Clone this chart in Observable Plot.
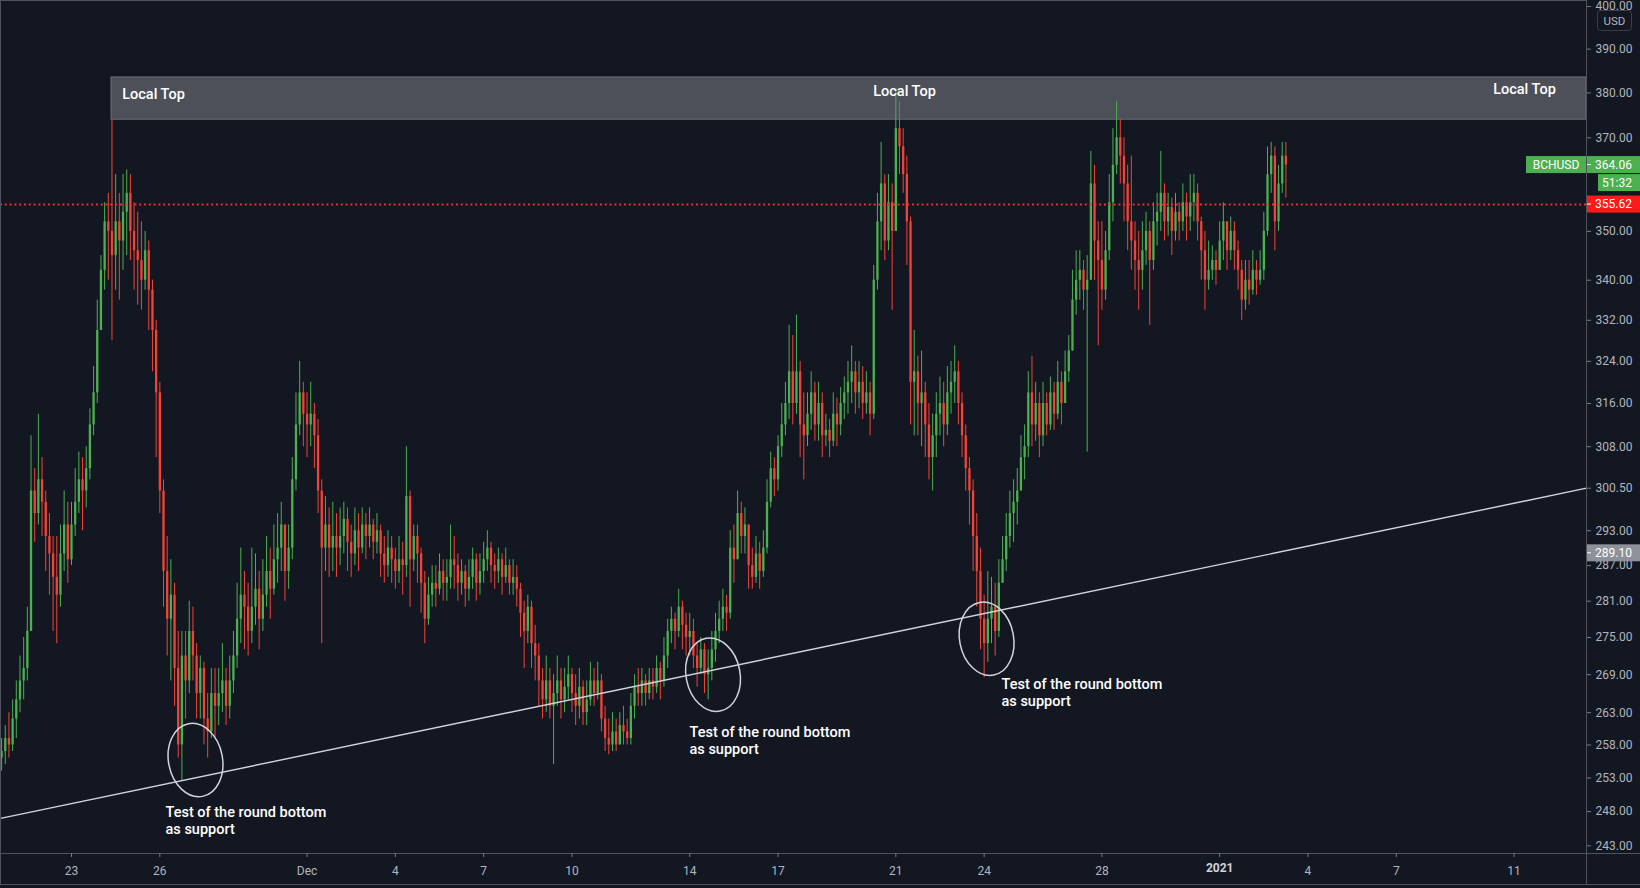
<!DOCTYPE html>
<html><head><meta charset="utf-8">
<script src="https://cdn.jsdelivr.net/npm/d3@7"></script>
<script src="https://cdn.jsdelivr.net/npm/@observablehq/plot@0.6"></script>
<style>
html,body{margin:0;padding:0;background:#131722;overflow:hidden}
svg{display:block}
</style></head><body><div id="chart"></div>
<script>
// ---- data (3-hour candles, BCHUSD) ----
const startTime = Date.UTC(2020, 10, 20, 15);
const stepHours = 3;
const firstOpen = 256;
const closes = [
257,259,258,
262,265,268,270,276,300,296,302,
298,292,289,285,282,289,294,288,
294,298,302,300,304,312,318,330,
342,352,350,345,352,348,354,358,
350,346,344,340,346,338,330,318,
300,286,278,282,270,258,272,268,
276,272,266,270,262,260,266,264,
266,268,264,268,272,278,282,280,
276,280,283,278,282,286,283,288,
290,294,286,290,302,312,318,314,
312,314,310,300,290,294,290,292,
290,292,295,291,289,293,290,294,
292,294,291,293,289,287,290,288,
286,288,287,299,288,292,289,284,
278,282,284,283,286,284,285,288,
287,284,286,283,285,288,284,286,
288,290,287,286,288,285,287,284,
285,283,279,276,280,274,272,268,
265,268,264,266,268,265,267,269,
266,264,267,263,265,268,266,268,
262,259,258,260,258,261,260,259,
264,267,266,268,266,268,267,270,
268,272,276,278,276,280,277,275,
276,272,270,273,269,270,273,276,
278,280,279,290,288,296,292,294,
287,285,289,286,290,298,304,302,
308,312,316,322,316,322,312,310,
314,318,312,316,310,311,309,314,
312,316,318,320,322,318,320,316,
318,314,340,352,360,348,356,350,
372,368,362,352,320,322,316,318,
312,306,310,314,316,312,318,320,
322,316,310,304,300,292,286,278,
274,278,280,276,284,288,292,296,
298,300,306,308,318,312,316,310,
316,312,318,314,320,316,322,326,
336,340,342,338,340,360,348,344,
338,346,356,364,370,366,360,352,
348,344,342,346,350,344,352,354,
358,352,355,350,354,352,356,353,
356,358,352,346,340,342,344,342,
348,352,346,350,346,342,336,340,
338,342,340,342,350,362,366,352,
360,366,364.06];
const highs = [
259,261,263,
265,268,272,275,280,310,304,314,
306,300,296,292,292,294,300,298,
298,304,307,306,308,315,323,336,
345,356,358,374,362,358,362,363,
362,356,354,352,350,348,340,332,
320,302,292,288,284,276,276,276,
281,280,274,272,271,266,270,270,
270,274,270,272,276,284,290,286,
284,290,289,286,288,292,290,294,
296,298,294,294,306,318,324,320,
318,320,316,313,302,299,297,298,
296,297,298,297,294,297,296,297,
296,297,295,296,294,292,293,292,
290,292,291,308,300,294,294,290,
286,285,287,287,289,288,288,294,
292,289,288,287,288,290,289,289,
291,293,291,289,290,289,290,288,
288,287,284,281,282,281,277,274,
270,272,270,269,272,270,270,272,
270,269,270,268,268,271,270,271,
269,264,262,263,262,263,264,262,
266,269,270,270,269,270,270,272,
271,275,278,280,279,283,281,279,
279,278,274,275,274,273,276,279,
281,283,282,293,294,300,298,297,
294,290,292,291,293,302,307,306,
310,316,320,331,329,333,324,318,
318,322,320,320,318,314,313,318,
317,319,321,324,327,324,324,323,
322,320,343,358,369,362,362,360,
381,378,372,366,353,330,325,326,
320,316,314,318,321,320,323,324,
327,324,318,312,306,302,296,290,
282,286,285,284,288,292,296,300,
302,304,310,312,322,325,320,318,
320,318,321,320,324,322,326,329,
342,346,346,344,345,367,364,352,
352,350,362,372,378,374,370,364,
366,352,350,352,354,352,356,358,
367,360,358,357,358,356,360,358,
362,362,360,353,350,348,347,346,
352,356,352,353,352,348,344,344,
344,346,344,346,354,368,369,368,
364,369,369];
const lows = [
254,255,256,
257,259,263,265,268,276,291,294,
292,286,282,276,274,280,286,284,
287,292,296,293,297,302,310,316,
330,338,340,328,338,336,342,345,
344,338,335,334,338,330,322,306,
296,280,272,268,264,256,252.5,262,
266,268,262,262,258,256,259,259,
261,263,261,262,266,270,274,273,
272,274,277,273,276,280,278,282,
284,286,281,283,288,300,310,308,
306,308,304,296,274,286,285,286,
285,287,289,286,285,287,286,289,
288,290,288,289,285,284,285,284,
283,284,282,285,280,286,284,279,
274,277,280,280,282,281,281,283,
283,281,282,280,281,283,281,282,
284,286,284,283,284,282,284,282,
282,280,275,270,274,270,268,264,
262,263,262,255,264,262,263,265,
263,261,262,261,261,264,264,265,
260,257,256.5,257,257,258,258,258,
258,262,264,264,264,265,265,266,
265,267,270,274,273,275,273,272,
272,270,267,269,266,265,268,271,
274,276,276,278,284,288,289,289,
283,283,284,283,285,289,297,299,
300,306,310,313,312,314,306,302,
308,311,309,309,306,308,306,308,
308,310,313,314,316,314,315,313,
314,310,313,338,346,344,346,334,
350,362,358,343,312,310,310,308,
306,302,300,306,310,308,310,314,
316,312,306,300,294,286,280,273,
268.5,271,274,272,275,284,286,290,
291,294,300,302,306,308,309,306,
308,310,311,311,313,312,316,320,
326,333,336,334,307,340,340,327,
334,336,344,352,362,360,352,346,
342,338,334,338,343,331,342,347,
350,348,349,345,348,348,350,348,
350,352,348,340,334,338,340,339,
342,344,342,344,342,338,332,334,
335,337,337,339,340,349,358,346,
350,358,357];

const yTicks = [400, 390, 380, 370, 350, 340, 332, 324, 316, 308, 300.5, 293, 287, 281, 275, 269, 263, 258, 253, 248, 243];
const xTickDates = ["2020-11-23","2020-11-26","2020-12-01","2020-12-04","2020-12-07","2020-12-10","2020-12-14","2020-12-17","2020-12-21","2020-12-24","2020-12-28","2021-01-01","2021-01-04","2021-01-07","2021-01-11"];
const xTickLabels = ["23","26","Dec","4","7","10","14","17","21","24","28","2021","4","7","11"];
const xDomain = [new Date(Date.UTC(2020, 10, 20, 14, 7)), new Date(Date.UTC(2021, 0, 13, 11, 3))];
const yDomain = [241.9, 401.43];

const zone = [{start: new Date("2020-11-24T08:36Z"), end: xDomain[1], bottom: 374, top: 383.5}];
const localTopLabels = [
  {date: new Date("2020-11-24T17:20Z"), price: 379.6, text: "Local Top"},
  {date: new Date("2020-12-21T07:05Z"), price: 380.3, text: "Local Top"},
  {date: new Date("2021-01-11T08:30Z"), price: 380.8, text: "Local Top"}
];
const supportLine = [{date: xDomain[0], price: 247.0}, {date: xDomain[1], price: 300.5}];
const ellipses = [
  {date: new Date("2020-11-27T05:05Z"), price: 255.7},
  {date: new Date("2020-12-14T19:00Z"), price: 269.0},
  {date: new Date("2020-12-24T02:00Z"), price: 274.8}
];
const noteText = "Test of the round bottom\nas support";
const notes = [
  {date: new Date("2020-11-26T04:38Z"), price: 246.8},
  {date: new Date("2020-12-13T23:48Z"), price: 258.8},
  {date: new Date("2020-12-24T14:10Z"), price: 266.2}
];
const refPrice = 355.62;
const lastPrice = 364.06;
const lineTagPrice = 289.10;
const countdown = "51:32";
const symbolName = "BCHUSD";

// ---- build candles ----
const candles = closes.map((c, i) => {
  const open = i ? closes[i - 1] : firstOpen;
  return {
    date: new Date(startTime + i * stepHours * 3600e3),
    open, close: c,
    high: Math.max(highs[i], open, c),
    low: Math.min(lows[i], open, c)
  };
});
const ups = candles.filter(d => d.close >= d.open);
const downs = candles.filter(d => d.close < d.open);
const GREEN = "#4caf50", RED = "#f44336";

const labelMap = new Map(xTickDates.map((d, i) => [+new Date(d + "T00:00Z"), xTickLabels[i]]));
const xTicks = xTickDates.map(d => new Date(d + "T00:00Z"));

// rotated ellipse symbol
const ellipseSymbol = {
  draw(ctx) {
    const a = 27, b = 37, k = 0.5523, t = -11 * Math.PI / 180;
    const c = Math.cos(t), s = Math.sin(t);
    const P = (x, y) => [x * c - y * s, x * s + y * c];
    const pts = [[a,0],[a,b*k],[a*k,b],[0,b],[-a*k,b],[-a,b*k],[-a,0],[-a,-b*k],[-a*k,-b],[0,-b],[a*k,-b],[a,-b*k],[a,0]].map(p => P(p[0], p[1]));
    ctx.moveTo(pts[0][0], pts[0][1]);
    for (let i = 1; i < pts.length; i += 3)
      ctx.bezierCurveTo(pts[i][0], pts[i][1], pts[i+1][0], pts[i+1][1], pts[i+2][0], pts[i+2][1]);
    ctx.closePath();
  }
};

const annoFont = "Roboto, 'Noto Sans', sans-serif";

const plot = Plot.plot({
  width: 1640, height: 888,
  marginLeft: 0, marginRight: 54, marginTop: 0, marginBottom: 35,
  style: {background: "#131722", color: "#b2b5be", fontFamily: "Roboto, 'Noto Sans', sans-serif", fontSize: "12px"},
  x: {type: "utc", domain: xDomain},
  y: {type: "log", domain: yDomain},
  marks: [
    Plot.rect(zone, {x1: "start", x2: "end", y1: "bottom", y2: "top", fill: "#4e5059", stroke: "#6b6e78", strokeWidth: 1}),
    Plot.ruleX(ups, {x: "date", y1: "low", y2: "high", stroke: GREEN, strokeWidth: 1}),
    Plot.ruleX(downs, {x: "date", y1: "low", y2: "high", stroke: RED, strokeWidth: 1}),
    Plot.ruleX(ups, {x: "date", y1: "open", y2: "close", stroke: GREEN, strokeWidth: 2.3}),
    Plot.ruleX(downs, {x: "date", y1: "open", y2: "close", stroke: RED, strokeWidth: 2.3}),
    Plot.ruleY([refPrice], {stroke: "#e8322e", strokeWidth: 2, strokeDasharray: "2,2.8"}),
    Plot.line(supportLine, {x: "date", y: "price", stroke: "#d1d4dc", strokeWidth: 1.4}),
    Plot.dot(ellipses, {x: "date", y: "price", symbol: ellipseSymbol, r: 1, fill: "none", stroke: "#d1d4dc", strokeWidth: 1.5}),
    Plot.text(localTopLabels.slice(0, 1), {x: "date", y: "price", text: "text", textAnchor: "start", fill: "#ffffff", fontSize: 14.5, fontWeight: 500, fontFamily: annoFont}),
    Plot.text(localTopLabels.slice(1), {x: "date", y: "price", text: "text", textAnchor: "middle", fill: "#ffffff", fontSize: 14.5, fontWeight: 500, fontFamily: annoFont}),
    Plot.text(notes, {x: "date", y: "price", text: () => noteText, textAnchor: "start", lineAnchor: "middle", lineHeight: 1.19, fill: "#ffffff", fontSize: 14.5, fontWeight: 500, fontFamily: annoFont}),
    Plot.frame({stroke: "#50535e"}),
    Plot.axisY(yTicks, {anchor: "right", label: null, tickSize: 4, tickPadding: 5, stroke: "#787b86", fill: "#b2b5be", tickFormat: d => d.toFixed(2)}),
    Plot.axisX(xTicks, {anchor: "bottom", label: null, tickSize: 4, tickPadding: 9, stroke: "#787b86", fill: "#b2b5be", tickFormat: d => (labelMap.get(+d) === "2021" ? "" : labelMap.get(+d))}),
    Plot.text(xTicks.filter(d => labelMap.get(+d) === "2021"), {x: d => d, frameAnchor: "bottom", dy: 18, text: d => labelMap.get(+d), fill: "#d1d4dc", fontWeight: "bold"})
  ]
});

document.getElementById("chart").appendChild(plot);

// ---- price tags on the right axis (positions via the plot's y scale) ----
const ys = plot.scale("y");
const svg = d3.select(plot);
const g = svg.append("g").attr("font-family", "Roboto, 'Noto Sans', sans-serif").attr("font-size", 12);
const axisX = 1586, W = 1640;
// border lines outside the frame
g.append("line").attr("x1", axisX).attr("x2", W).attr("y1", 853.5).attr("y2", 853.5).attr("stroke", "#50535e");
g.append("line").attr("x1", 0).attr("x2", W).attr("y1", 884.5).attr("y2", 884.5).attr("stroke", "#50535e");
g.append("line").attr("x1", axisX + 0.5).attr("x2", axisX + 0.5).attr("y1", 853).attr("y2", 885).attr("stroke", "#50535e");
g.append("line").attr("x1", 0.5).attr("x2", 0.5).attr("y1", 853).attr("y2", 885).attr("stroke", "#50535e");

function tag(price, x0, x1, fill, text, tx, anchor, dyOff = 0, h = 17, tick = false) {
  const y = ys.apply(price) + dyOff;
  g.append("rect").attr("x", x0).attr("y", y - h / 2).attr("width", x1 - x0).attr("height", h).attr("fill", fill);
  g.append("text").attr("x", tx).attr("y", y).attr("dy", "0.35em").attr("fill", "#ffffff").attr("text-anchor", anchor).text(text);
  if (tick) g.append("line").attr("x1", axisX + 1).attr("x2", axisX + 5).attr("y1", y).attr("y2", y).attr("stroke", "#ffffff");
}
tag(lastPrice, 1526, axisX, GREEN, symbolName, 1556, "middle");
tag(lastPrice, axisX + 1, W, GREEN, lastPrice.toFixed(2), 1595, "start", 0, 17, true);
tag(lastPrice, 1598, W, GREEN, countdown, 1602, "start", 18);
tag(refPrice, axisX + 1, W, "#ff1a1a", refPrice.toFixed(2), 1595, "start", 0, 17, true);
tag(lineTagPrice, axisX + 1, W, "#8e919a", lineTagPrice.toFixed(2), 1595, "start", 0, 17, true);
// currency box
g.append("rect").attr("x", 1597.5).attr("y", 10.5).attr("width", 34).attr("height", 20).attr("rx", 3).attr("fill", "#131722").attr("stroke", "#3a3e49");
g.append("text").attr("x", 1614.5).attr("y", 20.5).attr("dy", "0.35em").attr("text-anchor", "middle").attr("fill", "#b2b5be").attr("font-size", 11.5).text("USD");
</script>
</body></html>
